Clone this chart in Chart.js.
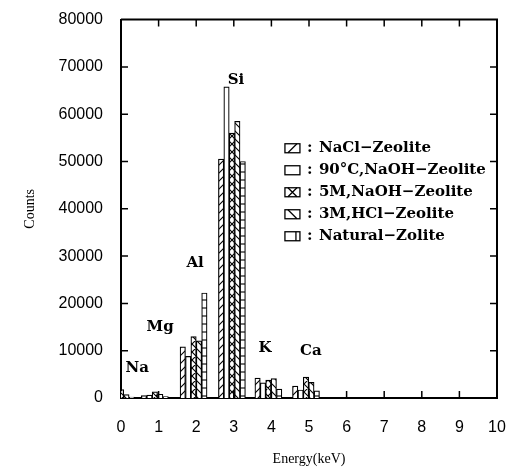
<!DOCTYPE html>
<html>
<head>
<meta charset="utf-8">
<script src="https://cdn.jsdelivr.net/npm/chart.js@4/dist/chart.umd.min.js"></script>
<style>
  html, body { margin: 0; padding: 0; background: #fff; }
  #wrap { width: 518px; height: 471px; }
</style>
</head>
<body>
<div id="wrap"><canvas id="edsChart" width="518" height="471"></canvas></div>
<script>
// EDS peaks of the zeolite samples
const elements = ["Na", "Mg", "Al", "Si", "K", "Ca"];
const peakEnergy = [0.0, 0.9, 1.93, 2.95, 3.92, 4.92];
const seriesNames = [
  "NaCl\u2212Zeolite",
  "90\u00b0C,NaOH\u2212Zeolite",
  "5M,NaOH\u2212Zeolite",
  "3M,HCl\u2212Zeolite",
  "Natural\u2212Zolite"
];
const naclCounts = [1500, 500, 10800, 50500, 4200, 2500];
const naoh90Counts = [1200, 600, 8800, 65800, 3200, 1700];
const naoh5mCounts = [1800, 1300, 13000, 56000, 3800, 4400];
const hcl3mCounts = [700, 800, 12100, 58500, 4100, 3300];
const naturalCounts = [200, 300, 22200, 50000, 1900, 1500];
const energyTicks = [0, 1, 2, 3, 4, 5, 6, 7, 8, 9, 10];
const countTicks = [0, 10000, 20000, 30000, 40000, 50000, 60000, 70000, 80000];

const hatches = ["/", "", "x", "\\", "="];

// little black-on-white hatch tiles used as bar fills
const makePattern = (kind) => {
  const c = document.createElement("canvas");
  c.width = 8;
  c.height = 8;
  const g = c.getContext("2d");
  g.fillStyle = "#fff";
  g.fillRect(0, 0, 8, 8);
  g.strokeStyle = "#000";
  g.lineWidth = 1.1;
  g.beginPath();
  if (kind == "/" || kind == "x") {
    g.moveTo(0, 8); g.lineTo(8, 0);
    g.moveTo(-1, 1); g.lineTo(1, -1);
    g.moveTo(7, 9); g.lineTo(9, 7);
  }
  if (kind == "\\" || kind == "x") {
    g.moveTo(0, 0); g.lineTo(8, 8);
    g.moveTo(7, -1); g.lineTo(9, 1);
    g.moveTo(-1, 7); g.lineTo(1, 9);
  }
  if (kind == "=") {
    g.moveTo(0, 4); g.lineTo(8, 4);
  }
  g.stroke();
  return g.createPattern(c, "repeat");
};

const seriesValues = [naclCounts, naoh90Counts, naoh5mCounts, hcl3mCounts, naturalCounts];

const datasets = seriesNames.map((name, i) => ({
  label: name,
  data: peakEnergy.map((e, j) => ({ x: e, y: seriesValues[i][j] })),
  backgroundColor: hatches[i] ? makePattern(hatches[i]) : "#fff",
  borderColor: "#000",
  borderWidth: 1.2,
  borderSkipped: "bottom",
  barThickness: 5.4,
  clip: 0,
  hatch: hatches[i]
}));

// inward tick marks on all four sides plus the top/right frame
const frameTicks = {
  id: "frameTicks",
  afterDatasetsDraw(chart) {
    const { ctx, chartArea: a, scales } = chart;
    ctx.save();
    ctx.strokeStyle = "#000";
    ctx.lineWidth = 2;
    ctx.beginPath();
    ctx.moveTo(a.left, a.top);
    ctx.lineTo(a.right, a.top);
    ctx.lineTo(a.right, a.bottom);
    ctx.stroke();
    ctx.lineWidth = 1.5;
    ctx.beginPath();
    for (const t of scales.y.ticks) {
      if (t.value <= 0 || t.value >= 80000) continue;
      const py = scales.y.getPixelForValue(t.value);
      ctx.moveTo(a.left, py); ctx.lineTo(a.left + 7, py);
      ctx.moveTo(a.right, py); ctx.lineTo(a.right - 7, py);
    }
    for (const t of scales.x.ticks) {
      if (t.value <= 0 || t.value >= 10) continue;
      const px = scales.x.getPixelForValue(t.value);
      ctx.moveTo(px, a.top); ctx.lineTo(px, a.top + 7);
      ctx.moveTo(px, a.bottom); ctx.lineTo(px, a.bottom - 7);
    }
    ctx.stroke();
    ctx.restore();
  }
};

// element names above each group of bars
const peakNames = {
  id: "peakNames",
  afterDatasetsDraw(chart, args, opts) {
    const { ctx, scales } = chart;
    ctx.save();
    ctx.fillStyle = "#000";
    ctx.font = "bold 15px 'DejaVu Serif'";
    ctx.textAlign = "center";
    ctx.textBaseline = "middle";
    elements.forEach((el, i) => {
      ctx.fillText(el, scales.x.getPixelForValue(opts.at[i][0]), scales.y.getPixelForValue(opts.at[i][1]));
    });
    ctx.restore();
  }
};

// hatched key boxes with " : name" next to them
const hatchLegend = {
  id: "hatchLegend",
  afterDraw(chart, args, opts) {
    const { ctx, scales } = chart;
    const x0 = scales.x.getPixelForValue(opts.x);
    const y0 = scales.y.getPixelForValue(opts.y);
    ctx.save();
    ctx.font = "bold 15px 'DejaVu Serif'";
    ctx.textBaseline = "middle";
    chart.data.datasets.forEach((ds, i) => {
      const y = y0 + i * opts.rowGap;
      const w = 15, h = 9, top = y - h / 2;
      ctx.fillStyle = "#fff";
      ctx.fillRect(x0, top, w, h);
      ctx.strokeStyle = "#000";
      ctx.lineWidth = 1.3;
      ctx.beginPath();
      if (ds.hatch == "/" || ds.hatch == "x") { ctx.moveTo(x0 + 3, top + h); ctx.lineTo(x0 + w - 3, top); }
      if (ds.hatch == "\\" || ds.hatch == "x") { ctx.moveTo(x0 + 3, top); ctx.lineTo(x0 + w - 3, top + h); }
      if (ds.hatch == "=") { ctx.moveTo(x0 + w - 4, top); ctx.lineTo(x0 + w - 4, top + h); }
      ctx.stroke();
      ctx.strokeRect(x0, top, w, h);
      ctx.fillStyle = "#000";
      ctx.fillText(":", x0 + 22, y);
      ctx.fillText(ds.label, x0 + 34, y);
    });
    ctx.restore();
  }
};

const ctx = document.getElementById("edsChart").getContext("2d");

new Chart(ctx, {
  type: "bar",
  data: { datasets: datasets },
  plugins: [frameTicks, peakNames, hatchLegend],
  options: {
    responsive: false,
    animation: false,
    devicePixelRatio: 1,
    layout: { padding: { top: 17, right: 21, left: 0, bottom: 0 } },
    plugins: {
      legend: { display: false },
      tooltip: { enabled: false },
      peakNames: {
        at: [[0.43, 6300], [1.04, 14900], [1.97, 28600], [3.06, 67200], [3.83, 10500], [5.05, 9900]]
      },
      hatchLegend: { x: 4.36, y: 52800, rowGap: 22 }
    },
    scales: {
      x: {
        type: "linear",
        min: 0,
        max: 10,
        offset: false,
        afterBuildTicks: (s) => { s.ticks = energyTicks.map((v) => ({ value: v })); },
        afterFit: (s) => { s.height = 73; },
        grid: { display: false, offset: false },
        border: { display: true, color: "#000", width: 2 },
        ticks: {
          color: "#000",
          padding: 12,
          maxRotation: 0,
          callback: (v) => String(v),
          font: { family: "'Liberation Sans'", size: 16 }
        },
        title: {
          display: true,
          text: "Energy(keV)",
          color: "#000",
          padding: { top: 0, bottom: 3 },
          font: { family: "'Liberation Serif'", size: 14 }
        }
      },
      y: {
        min: 0,
        max: 80000,
        afterBuildTicks: (s) => { s.ticks = countTicks.map((v) => ({ value: v })); },
        afterFit: (s) => { s.width = 121; },
        grid: { display: false },
        border: { display: true, color: "#000", width: 2 },
        ticks: {
          color: "#000",
          padding: 10,
          callback: (v) => String(v),
          font: { family: "'Liberation Sans'", size: 16 }
        },
        title: {
          display: true,
          text: "Counts",
          color: "#000",
          padding: { top: 22, bottom: 0 },
          font: { family: "'Liberation Serif'", size: 14 }
        }
      }
    }
  }
});
</script>
</body>
</html>
